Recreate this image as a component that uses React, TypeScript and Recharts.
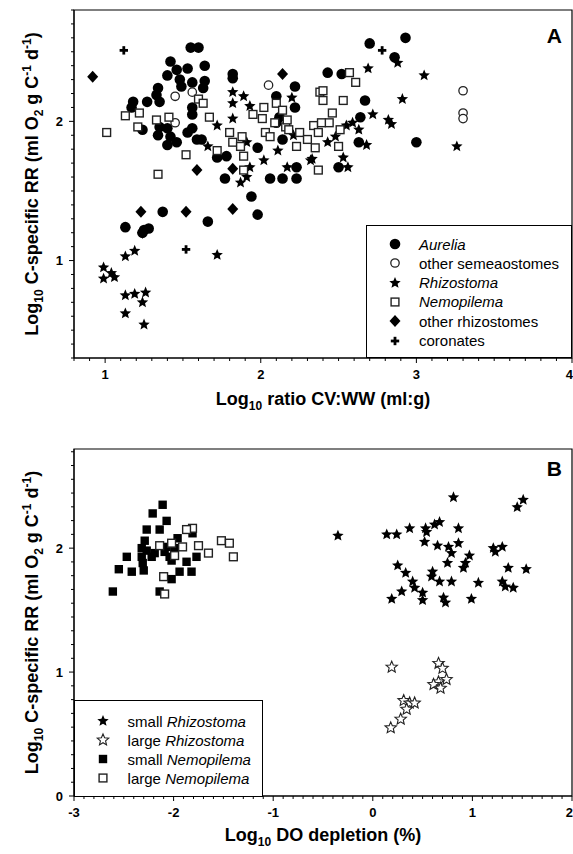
import React from 'react'
import { ScatterChart, Scatter, XAxis, YAxis, ReferenceArea, Legend } from 'recharts'

type Pt = [number, number]

const FONT = '"Liberation Sans", Arial, Helvetica, sans-serif'

// Panel A: log10 ratio CV:WW (x) vs log10 C-specific RR (y)
const aurelia: Pt[] = [
  [1.55, 2.53], [1.6, 2.53], [1.42, 2.43], [1.64, 2.4], [1.82, 2.34], [1.82, 2.31], [1.53, 2.38],
  [1.46, 2.37], [1.4, 2.33], [1.48, 2.3], [1.56, 2.28], [1.64, 2.29], [1.63, 2.24], [1.49, 2.25],
  [1.34, 2.24], [1.33, 2.19], [1.27, 2.14], [1.18, 2.14], [1.17, 2.1], [1.35, 2.14], [1.56, 2.1],
  [1.56, 2.05], [1.56, 1.95], [1.53, 1.92], [1.35, 1.96], [1.4, 1.95], [1.34, 1.9], [1.4, 1.83],
  [1.46, 1.85], [1.24, 1.94], [1.42, 1.89], [1.59, 1.87], [1.62, 1.87], [1.72, 1.74], [1.78, 1.75],
  [1.98, 1.81], [2.14, 1.87], [2.1, 2.18], [2.22, 2.25], [2.22, 2.1], [2.12, 2.03], [2.1, 1.99],
  [1.77, 1.59], [2.06, 1.59], [2.14, 1.59], [2.23, 1.59], [2.23, 1.67], [1.94, 1.46], [2.93, 2.6],
  [2.7, 2.56], [2.86, 2.46], [2.43, 2.35], [2.52, 2.34], [2.67, 2.15], [2.64, 2.03], [2.63, 1.85],
  [3.0, 1.85], [2.5, 1.67], [1.37, 1.35], [1.66, 1.28], [1.98, 1.33], [1.13, 1.24], [1.28, 1.23],
  [1.25, 1.22], [1.24, 1.2]
]
const otherSemaeostomes: Pt[] = [
  [1.45, 2.18], [1.56, 2.21], [2.05, 2.26], [1.45, 1.99], [3.3, 2.22], [3.3, 2.06], [3.3, 2.02]
]
const rhizostomaA: Pt[] = [
  [1.82, 2.21], [1.89, 2.18], [1.82, 2.13], [1.93, 2.11], [1.82, 2.02], [1.72, 1.97], [1.66, 1.82],
  [1.91, 1.85], [2.02, 1.72], [2.11, 1.79], [2.2, 2.17], [2.17, 1.67], [2.32, 1.72], [1.93, 1.67],
  [1.87, 1.56], [1.91, 1.6], [2.21, 1.9], [2.69, 2.38], [2.88, 2.42], [3.05, 2.33], [2.91, 2.16],
  [2.72, 2.05], [2.82, 2.01], [2.84, 1.98], [2.59, 1.99], [2.55, 1.97], [2.63, 1.94], [2.43, 1.85],
  [2.68, 1.83], [2.48, 1.89], [2.33, 1.73], [2.53, 1.74], [2.56, 1.67], [3.26, 1.82], [0.99, 0.95],
  [0.99, 0.87], [1.04, 0.91], [1.06, 0.88], [1.13, 1.03], [1.19, 1.07], [1.13, 0.75], [1.19, 0.76],
  [1.26, 0.77], [1.24, 0.7], [1.13, 0.62], [1.25, 0.54], [1.72, 1.04]
]
const nemopilemaA: Pt[] = [
  [1.01, 1.92], [1.13, 2.04], [1.22, 2.06], [1.21, 1.96], [1.33, 2.01], [1.41, 2.03], [1.34, 1.62],
  [1.52, 1.76], [1.6, 2.16], [1.63, 2.13], [1.67, 2.03], [1.72, 1.79], [1.8, 1.92], [1.82, 1.85],
  [1.88, 1.89], [1.87, 1.82], [1.89, 1.75], [1.89, 1.65], [1.95, 2.05], [2.01, 2.02], [2.02, 2.1],
  [2.03, 1.92], [2.06, 1.89], [2.09, 1.99], [2.1, 2.13], [2.14, 2.08], [2.16, 1.96], [2.17, 2.01],
  [2.18, 1.94], [2.23, 1.82], [2.25, 1.92], [2.3, 1.87], [2.34, 1.97], [2.35, 1.81], [2.37, 1.65],
  [2.37, 1.92], [2.38, 2.21], [2.57, 2.35], [2.61, 2.28], [2.4, 2.22], [2.4, 2.15], [2.53, 2.15],
  [2.46, 2.06], [2.44, 1.99], [2.39, 1.99], [2.5, 1.82], [2.51, 1.94]
]
const otherRhizostomes: Pt[] = [
  [0.92, 2.32], [2.14, 2.34], [1.59, 1.65], [1.82, 1.66], [1.82, 1.37], [1.23, 1.35], [1.52, 1.35], [1.24, 1.2]
]
const coronates: Pt[] = [[1.12, 2.51], [2.78, 2.51], [1.52, 1.08]]

// Panel B: log10 DO depletion (x) vs log10 C-specific RR (y)
const smallRhizostoma: Pt[] = [
  [-0.35, 2.1], [0.14, 2.11], [0.24, 2.11], [0.37, 2.16], [0.53, 2.16], [0.54, 2.13], [0.62, 2.19],
  [0.67, 2.21], [0.81, 2.41], [0.86, 2.16], [0.52, 2.05], [0.65, 2.02], [0.76, 2.01], [0.86, 2.04],
  [0.79, 1.96], [0.97, 1.94], [0.75, 1.88], [0.93, 1.88], [0.91, 1.84], [0.25, 1.86], [0.33, 1.8],
  [0.6, 1.81], [0.59, 1.77], [0.67, 1.73], [0.79, 1.73], [0.4, 1.73], [0.42, 1.68], [1.06, 1.72],
  [0.29, 1.65], [0.19, 1.59], [0.5, 1.64], [0.5, 1.58], [0.71, 1.6], [0.73, 1.56], [0.99, 1.59],
  [1.21, 2.0], [1.3, 2.01], [1.23, 1.97], [1.36, 1.84], [1.54, 1.83], [1.3, 1.73], [1.33, 1.69],
  [1.41, 1.68], [1.45, 2.33], [1.51, 2.39]
]
const largeRhizostoma: Pt[] = [
  [0.19, 1.04], [0.66, 1.07], [0.7, 1.03], [0.74, 0.94], [0.66, 0.92], [0.61, 0.9], [0.68, 0.87],
  [0.31, 0.77], [0.37, 0.75], [0.42, 0.75], [0.34, 0.7], [0.28, 0.62], [0.18, 0.55]
]
const smallNemopilema: Pt[] = [
  [-2.11, 2.35], [-2.21, 2.28], [-2.07, 2.22], [-2.27, 2.15], [-2.14, 2.15], [-2.29, 2.06], [-2.32, 2.0],
  [-2.27, 1.98], [-2.47, 1.93], [-2.32, 1.93], [-2.22, 1.93], [-2.31, 1.88], [-2.55, 1.83], [-2.42, 1.81],
  [-2.3, 1.82], [-2.61, 1.65], [-2.14, 1.65], [-2.02, 1.75], [-1.94, 1.81], [-1.82, 1.81], [-1.87, 1.89],
  [-1.77, 1.93], [-2.09, 1.97], [-2.04, 1.93], [-1.99, 2.0], [-1.96, 2.08], [-2.02, 1.9], [-1.81, 2.12],
  [-2.19, 1.96], [-2.07, 2.01]
]
const largeNemopilema: Pt[] = [
  [-1.81, 2.16], [-1.87, 2.15], [-2.14, 2.02], [-2.02, 2.04], [-1.91, 2.01], [-1.75, 2.02], [-1.65, 1.96],
  [-1.52, 2.06], [-1.44, 2.04], [-1.4, 1.93], [-2.1, 1.77], [-2.09, 1.63], [-1.99, 1.94]
]

const xLabelsA = [1, 2, 3, 4]
const yLabelsA = [1, 2]
const xLabelsB = [-3, -2, -1, 0, 1, 2]
const yLabelsB = [0, 1, 2]

const steps = (from: number, to: number, step: number) => {
  const out: number[] = []
  for (let i = 0; from + i * step <= to + 1e-9; i++) out.push(Math.round((from + i * step) * 10000) / 10000)
  return out
}

const toRows = (pts: Pt[]) => pts.map(([x, y]) => ({ x, y }))

function starPoints(cx: number, cy: number, R: number, r: number) {
  const pts: string[] = []
  for (let k = 0; k < 10; k++) {
    const a = -Math.PI / 2 + (k * Math.PI) / 5
    const rad = k % 2 === 0 ? R : r
    pts.push(`${cx + rad * Math.cos(a)},${cy + rad * Math.sin(a)}`)
  }
  return pts.join(' ')
}

function Marker({ kind, cx, cy }: { kind: string; cx: number; cy: number }) {
  switch (kind) {
    case 'dot':
      return <circle cx={cx} cy={cy} r={5.3} fill="#000" />
    case 'ring':
      return <circle cx={cx} cy={cy} r={4.2} fill="#fff" stroke="#222" strokeWidth={1.3} />
    case 'star':
      return <polygon points={starPoints(cx, cy, 6, 2.7)} fill="#000" />
    case 'openStar':
      return <polygon points={starPoints(cx, cy, 6, 2.7)} fill="#fff" stroke="#222" strokeWidth={1.1} />
    case 'square':
      return <rect x={cx - 4.2} y={cy - 4.2} width={8.4} height={8.4} fill="#000" />
    case 'openSquare':
      return <rect x={cx - 3.9} y={cy - 3.9} width={7.8} height={7.8} fill="#fff" stroke="#222" strokeWidth={1.4} />
    case 'diamond':
      return <polygon points={`${cx},${cy - 6} ${cx + 5.5},${cy} ${cx},${cy + 6} ${cx - 5.5},${cy}`} fill="#000" />
    case 'plus':
      return (
        <g fill="#000">
          <rect x={cx - 4.2} y={cy - 1.4} width={8.4} height={2.8} />
          <rect x={cx - 1.4} y={cy - 4.2} width={2.8} height={8.4} />
        </g>
      )
    default:
      return null
  }
}

function AxisTick(props: any) {
  const { x, y, payload, side, labels } = props
  const v = payload.value as number
  const major = labels.some((l: number) => Math.abs(l - v) < 1e-6)
  const last = Math.abs(v - labels[labels.length - 1]) < 1e-6
  const len = major ? 5 : 3
  const txt = { fontSize: 13, fontWeight: 'bold' as const, fill: '#000', fontFamily: FONT }
  if (side === 'bottom') {
    return (
      <g>
        <line x1={x} y1={y} x2={x} y2={y + len} stroke="#000" />
        {major && (
          <text x={last ? x + 1 : x} y={y + 21} textAnchor={last ? 'end' : 'middle'} {...txt}>
            {Math.round(v)}
          </text>
        )}
      </g>
    )
  }
  return (
    <g>
      <line x1={x - len} y1={y} x2={x} y2={y} stroke="#000" />
      {major && <text x={x - 11} y={y + 4.5} textAnchor="end" {...txt}>{Math.round(v)}</text>}
    </g>
  )
}

const titleStyle = { fontSize: 18, fontWeight: 'bold' as const, fill: '#000', fontFamily: FONT }

function XTitle({ viewBox, text, dy }: any) {
  const vb = viewBox || { x: 74, y: 358, width: 498 }
  return (
    <text x={vb.x + vb.width / 2} y={vb.y + dy} textAnchor="middle" {...titleStyle}>
      Log<tspan fontSize={12} dy={5}>10</tspan>
      <tspan dy={-5}>{text}</tspan>
    </text>
  )
}

function YTitle({ viewBox }: any) {
  const vb = viewBox || { x: 0, y: 10, width: 74, height: 348 }
  const cx = 38
  const cy = vb.y + vb.height / 2
  return (
    <text x={cx} y={cy} transform={`rotate(-90 ${cx} ${cy})`} textAnchor="middle" {...titleStyle}>
      Log<tspan fontSize={12} dy={5}>10</tspan>
      <tspan dy={-5}> C-specific RR (ml O</tspan>
      <tspan fontSize={12} dy={5}>2</tspan>
      <tspan dy={-5}> g C</tspan>
      <tspan fontSize={12} dy={-7}>-1</tspan>
      <tspan dy={7}> d</tspan>
      <tspan fontSize={12} dy={-7}>-1</tspan>
      <tspan dy={7}>)</tspan>
    </text>
  )
}

function PanelLetter({ viewBox, letter, dy }: any) {
  const vb = viewBox || { x: 74, y: 10, width: 498 }
  return (
    <text x={vb.x + vb.width - 10} y={vb.y + dy} textAnchor="end" fontSize={21} fontWeight="bold" fill="#000" fontFamily={FONT}>
      {letter}
    </text>
  )
}

type Part = { t: string; i?: boolean }
type LegendItem = { kind: string; parts: Part[] }

const legendA: LegendItem[] = [
  { kind: 'dot', parts: [{ t: 'Aurelia', i: true }] },
  { kind: 'ring', parts: [{ t: 'other semeaostomes' }] },
  { kind: 'star', parts: [{ t: 'Rhizostoma', i: true }] },
  { kind: 'openSquare', parts: [{ t: 'Nemopilema', i: true }] },
  { kind: 'diamond', parts: [{ t: 'other rhizostomes' }] },
  { kind: 'plus', parts: [{ t: 'coronates' }] }
]
const legendB: LegendItem[] = [
  { kind: 'star', parts: [{ t: 'small ' }, { t: 'Rhizostoma', i: true }] },
  { kind: 'openStar', parts: [{ t: 'large ' }, { t: 'Rhizostoma', i: true }] },
  { kind: 'square', parts: [{ t: 'small ' }, { t: 'Nemopilema', i: true }] },
  { kind: 'openSquare', parts: [{ t: 'large ' }, { t: 'Nemopilema', i: true }] }
]

function LegendBox({ items, padTop, padLeft, gap, row }: { items: LegendItem[]; padTop: number; padLeft: number; gap: number; row: number }) {
  return (
    <div
      style={{
        boxSizing: 'border-box', width: '100%', height: '100%', border: '1px solid #000', background: '#fff',
        paddingTop: padTop, paddingLeft: padLeft, fontFamily: FONT, fontSize: 15, color: '#000'
      }}
    >
      {items.map((it, i) => (
        <div key={i} style={{ height: row, display: 'flex', alignItems: 'center', whiteSpace: 'nowrap' }}>
          <svg width={16} height={16} style={{ flex: 'none' }}>
            <Marker kind={it.kind} cx={8} cy={8} />
          </svg>
          <span style={{ marginLeft: gap }}>
            {it.parts.map((p, j) => (
              <span key={j} style={{ fontStyle: p.i ? 'italic' : 'normal' }}>{p.t}</span>
            ))}
          </span>
        </div>
      ))}
    </div>
  )
}

const seriesA = [
  { name: 'Aurelia', pts: aurelia, kind: 'dot' },
  { name: 'other semeaostomes', pts: otherSemaeostomes, kind: 'ring' },
  { name: 'Rhizostoma', pts: rhizostomaA, kind: 'star' },
  { name: 'Nemopilema', pts: nemopilemaA, kind: 'openSquare' },
  { name: 'other rhizostomes', pts: otherRhizostomes, kind: 'diamond' },
  { name: 'coronates', pts: coronates, kind: 'plus' }
]
const seriesB = [
  { name: 'small Rhizostoma', pts: smallRhizostoma, kind: 'star' },
  { name: 'large Rhizostoma', pts: largeRhizostoma, kind: 'openStar' },
  { name: 'small Nemopilema', pts: smallNemopilema, kind: 'square' },
  { name: 'large Nemopilema', pts: largeNemopilema, kind: 'openSquare' }
]

export default function App() {
  return (
    <div style={{ position: 'absolute', left: 0, top: 0, width: 573, height: 854, background: '#fff', fontFamily: FONT }}>
      <ScatterChart width={573} height={420} margin={{ top: 10, right: 1, bottom: 0, left: 0 }}>
        <XAxis
          type="number" dataKey="x" domain={[0.8, 4]} ticks={steps(0.8, 4, 0.1)} interval={0}
          height={62} tickSize={0} tickMargin={0} tickLine={false} stroke="#000"
          tick={<AxisTick side="bottom" labels={xLabelsA} />}
          label={(p: any) => <XTitle viewBox={p.viewBox} text=" ratio CV:WW (ml:g)" dy={47} />}
        />
        <YAxis
          type="number" dataKey="y" domain={[0.3, 2.8]} ticks={steps(0.3, 2.8, 0.1)} interval={0}
          width={74} tickSize={0} tickMargin={0} tickLine={false} stroke="#000"
          tick={<AxisTick side="left" labels={yLabelsA} />}
          label={(p: any) => <YTitle viewBox={p.viewBox} />}
        />
        <ReferenceArea
          x1={0.8} x2={4} y1={0.3} y2={2.8} fill="none" stroke="#000" strokeWidth={1.2}
          label={(p: any) => <PanelLetter viewBox={p.viewBox} letter="A" dy={33} />}
        />
        {seriesA.map((s) => (
          <Scatter
            key={s.name} name={s.name} data={toRows(s.pts)} isAnimationActive={false}
            shape={(p: any) => <Marker kind={s.kind} cx={p.cx} cy={p.cy} />}
          />
        ))}
        <Legend
          layout="vertical" align="center" verticalAlign="middle"
          wrapperStyle={{ left: 366, top: 225, width: 206, height: 133 }}
          content={() => <LegendBox items={legendA} padTop={8.4} padLeft={20} gap={16} row={19.3} />}
        />
      </ScatterChart>
      <ScatterChart width={573} height={434} margin={{ top: 29, right: 1, bottom: 0, left: 0 }}>
        <XAxis
          type="number" dataKey="x" domain={[-3, 2]} ticks={steps(-3, 2, 0.1)} interval={0}
          height={58} tickSize={0} tickMargin={0} tickLine={false} stroke="#000"
          tick={<AxisTick side="bottom" labels={xLabelsB} />}
          label={(p: any) => <XTitle viewBox={p.viewBox} text=" DO depletion (%)" dy={45} />}
        />
        <YAxis
          type="number" dataKey="y" domain={[0, 2.8]} ticks={steps(0, 2.8, 1 / 9)} interval={0}
          width={74} tickSize={0} tickMargin={0} tickLine={false} stroke="#000"
          tick={<AxisTick side="left" labels={yLabelsB} />}
          label={(p: any) => <YTitle viewBox={p.viewBox} />}
        />
        <ReferenceArea
          x1={-3} x2={2} y1={0} y2={2.8} fill="none" stroke="#000" strokeWidth={1.2}
          label={(p: any) => <PanelLetter viewBox={p.viewBox} letter="B" dy={27} />}
        />
        {seriesB.map((s) => (
          <Scatter
            key={s.name} name={s.name} data={toRows(s.pts)} isAnimationActive={false}
            shape={(p: any) => <Marker kind={s.kind} cx={p.cx} cy={p.cy} />}
          />
        ))}
        <Legend
          layout="vertical" align="center" verticalAlign="middle"
          wrapperStyle={{ left: 74, top: 280, width: 189, height: 97 }}
          content={() => <LegendBox items={legendB} padTop={10.5} padLeft={19.6} gap={17} row={19} />}
        />
      </ScatterChart>
    </div>
  )
}
